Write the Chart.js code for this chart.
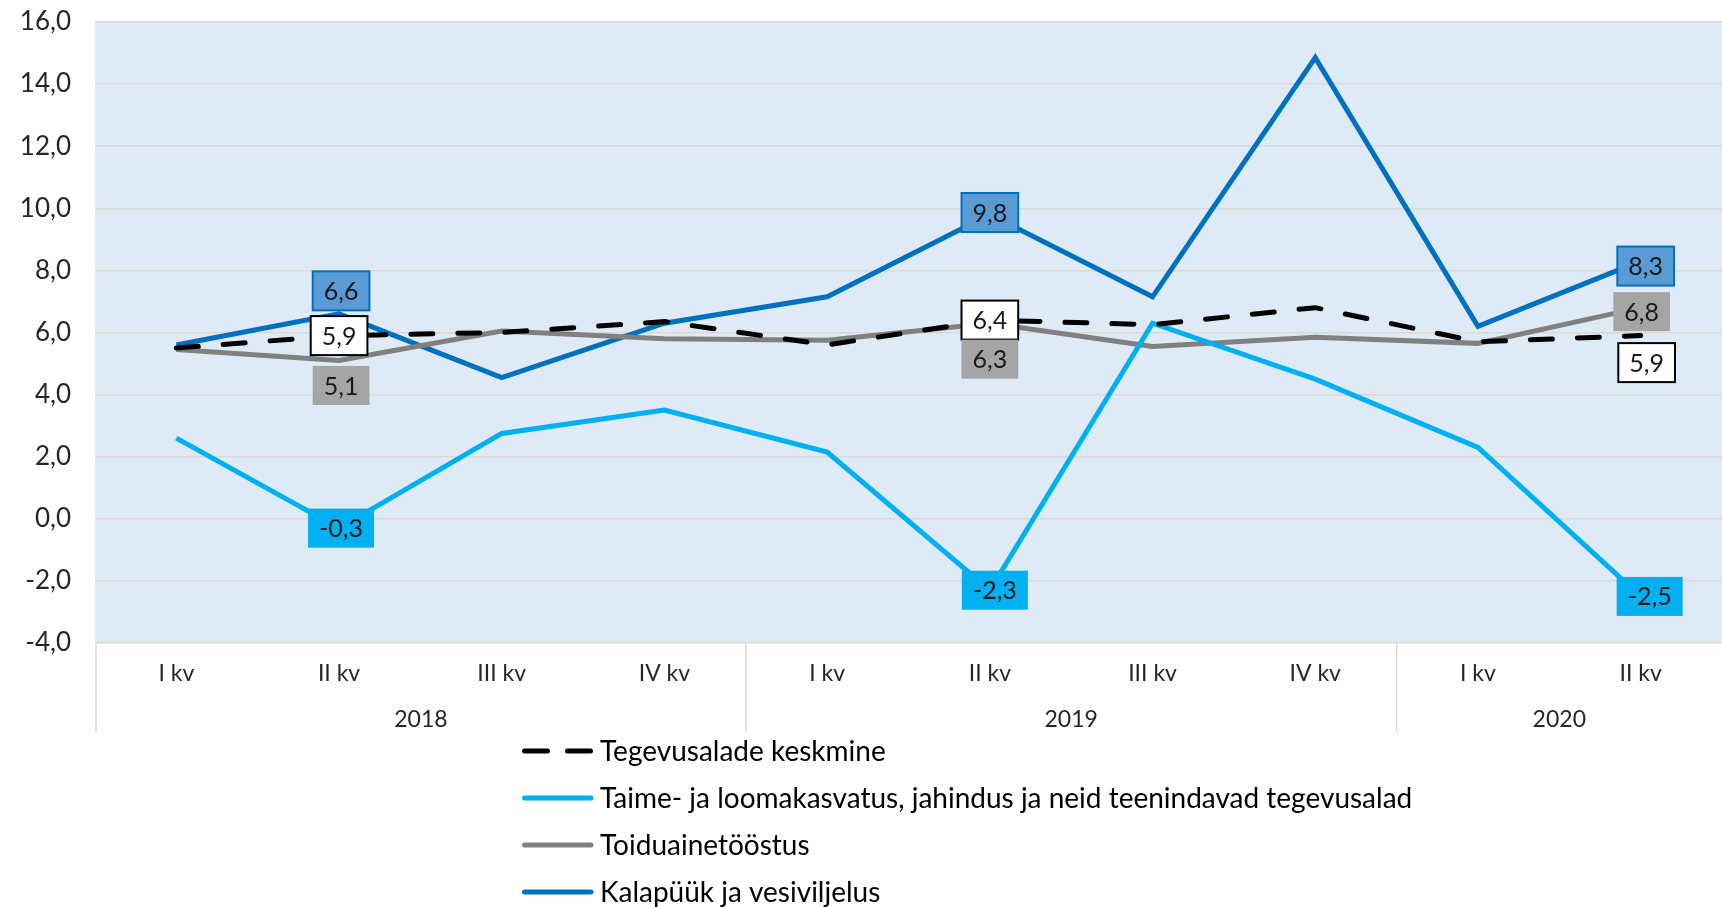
<!DOCTYPE html>
<html>
<head>
<meta charset="utf-8">
<script src="https://cdn.jsdelivr.net/npm/chart.js@4.4.1/dist/chart.umd.min.js"></script>
<style>
  html, body { margin: 0; padding: 0; background: #fff; }
  #wrap { width: 1722px; height: 907px; }
</style>
</head>
<body>
<div id="wrap"><canvas id="chart"></canvas></div>
<script>
// categories
const quarters = ["I kv", "II kv", "III kv", "IV kv", "I kv", "II kv", "III kv", "IV kv", "I kv", "II kv"];
const years = ["2018", "2019", "2020"];
const yearSpans = [4, 4, 2];

// series values
const keskmine = [5.5, 5.9, 6.0, 6.35, 5.6, 6.4, 6.25, 6.8, 5.7, 5.9];
const taime = [2.6, -0.3, 2.75, 3.5, 2.15, -2.3, 6.3, 4.5, 2.3, -2.5];
const toidu = [5.45, 5.1, 6.05, 5.8, 5.75, 6.3, 5.55, 5.85, 5.65, 6.8];
const kala = [5.6, 6.6, 4.55, 6.3, 7.15, 9.8, 7.15, 14.85, 6.2, 8.3];

const seriesNames = [
  "Tegevusalade keskmine",
  "Taime- ja loomakasvatus, jahindus ja neid teenindavad tegevusalad",
  "Toiduainetööstus",
  "Kalapüük ja vesiviljelus",
];

// y axis range
const yMin = -4;
const yMax = 16;
const yStep = 2;

const FONT = "Lato, 'Open Sans', sans-serif";
const fmt = (v) => v.toFixed(1).replace(".", ",");

// which points get a value box, and where the box sits (pixel offsets from point)
const valueBoxes = [
  { ds: 0, idx: 1, dx: 0, dy: 0, bg: "#ffffff", border: "#000000" },
  { ds: 0, idx: 5, dx: 0, dy: 0, bg: "#ffffff", border: "#000000" },
  { ds: 0, idx: 9, dx: 6, dy: 27, bg: "#ffffff", border: "#000000" },
  { ds: 1, idx: 1, dx: 2, dy: 0, bg: "#00B0F0", border: null },
  { ds: 1, idx: 5, dx: 5, dy: 0, bg: "#00B0F0", border: null },
  { ds: 1, idx: 9, dx: 9, dy: 0, bg: "#00B0F0", border: null },
  { ds: 2, idx: 1, dx: 2, dy: 25, bg: "#A5A5A5", border: null },
  { ds: 2, idx: 5, dx: 0, dy: 36, bg: "#A5A5A5", border: null },
  { ds: 2, idx: 9, dx: 1, dy: 4, bg: "#A5A5A5", border: null },
  { ds: 3, idx: 1, dx: 2, dy: -23, bg: "#5B9BD5", border: "#0070C0" },
  { ds: 3, idx: 5, dx: 0, dy: -2, bg: "#5B9BD5", border: "#0070C0" },
  { ds: 3, idx: 9, dx: 5, dy: 5, bg: "#5B9BD5", border: "#0070C0" },
];

const decor = {
  id: "decor",
  beforeDraw(chart) {
    const { ctx, chartArea: a } = chart;
    ctx.save();
    ctx.fillStyle = "#DEEAF6";
    ctx.fillRect(a.left, a.top, a.right - a.left, a.bottom - a.top);
    ctx.restore();
  },
  afterDraw(chart) {
    const { ctx, chartArea: a } = chart;
    const x = chart.scales.x;
    ctx.save();

    // year group separators and year labels
    ctx.strokeStyle = "#D9D9D9";
    ctx.lineWidth = 1.5;
    let start = 0;
    const bounds = [];
    yearSpans.forEach((n) => {
      bounds.push([start, start + n - 1]);
      start += n;
    });
    const edge = (i) => {
      if (i <= 0) return a.left + 1;
      if (i >= quarters.length) return a.right;
      return (x.getPixelForValue(i - 1) + x.getPixelForValue(i)) / 2;
    };
    bounds.forEach((b) => {
      const left = edge(b[0]);
      ctx.beginPath();
      ctx.moveTo(left, a.bottom);
      ctx.lineTo(left, a.bottom + 89);
      ctx.stroke();
    });
    ctx.fillStyle = "#262626";
    ctx.font = "23px " + FONT;
    ctx.textAlign = "center";
    ctx.textBaseline = "middle";
    bounds.forEach((b, i) => {
      const cx = (edge(b[0]) + edge(b[1] + 1)) / 2;
      ctx.fillText(years[i], cx, a.bottom + 77);
    });

    // value boxes
    ctx.font = "25px " + FONT;
    valueBoxes.forEach((b) => {
      const p = chart.getDatasetMeta(b.ds).data[b.idx];
      const v = chart.data.datasets[b.ds].data[b.idx];
      const txt = fmt(v);
      const w = ctx.measureText(txt).width + 22;
      const h = 39;
      const cx = p.x + b.dx;
      const cy = p.y + b.dy;
      ctx.fillStyle = b.bg;
      ctx.fillRect(cx - w / 2, cy - h / 2, w, h);
      if (b.border) {
        ctx.strokeStyle = b.border;
        ctx.lineWidth = 2;
        ctx.strokeRect(cx - w / 2, cy - h / 2, w, h);
      }
      ctx.fillStyle = "#1a1a1a";
      ctx.fillText(txt, cx, cy + 1);
    });

    // legend (one item per row)
    const rows = [751, 798, 845, 892];
    chart.data.datasets.forEach((ds, i) => {
      const y = rows[i];
      ctx.strokeStyle = ds.borderColor;
      ctx.lineWidth = 5;
      ctx.lineCap = "round";
      ctx.setLineDash(ds.borderDash && ds.borderDash.length ? [23, 20] : []);
      ctx.beginPath();
      ctx.moveTo(524.5, y);
      ctx.lineTo(591, y);
      ctx.stroke();
      ctx.setLineDash([]);
      ctx.fillStyle = "#000";
      ctx.font = "28px " + FONT;
      ctx.textAlign = "left";
      ctx.fillText(ds.label, 600, y + 1);
    });
    ctx.restore();
  },
};

const main = () => {
  const ctx = document.querySelector("#chart").getContext("2d");
  const colors = ["#000000", "#00B0F0", "#808080", "#0070C0"];
  const values = [keskmine, taime, toidu, kala];

  const datasets = values.map((d, i) => ({
    label: seriesNames[i],
    data: d,
    borderColor: colors[i],
    backgroundColor: colors[i],
    borderWidth: 5,
    borderDash: i === 0 ? [22, 25] : [],
    borderCapStyle: i === 0 ? "round" : "butt",
    pointRadius: 0,
    tension: 0,
    fill: false,
  }));

  const config = {
    type: "line",
    data: { labels: quarters, datasets: datasets },
    options: {
      responsive: true,
      maintainAspectRatio: false,
      animation: false,
      layout: { padding: { top: 22, right: 0, left: 0, bottom: 164 } },
      plugins: {
        legend: { display: false },
        tooltip: { enabled: false },
      },
      scales: {
        x: {
          offset: true,
          grid: { display: false, drawTicks: false },
          border: { display: false },
          ticks: {
            color: "#262626",
            font: { family: FONT, size: 23 },
            padding: 17,
            maxRotation: 0,
          },
          afterFit: (s) => { s.height = 100; },
        },
        y: {
          min: yMin,
          max: yMax,
          grid: { color: "#D9D9D9", lineWidth: 1.5, drawTicks: false },
          border: { display: false },
          ticks: {
            stepSize: yStep,
            color: "#262626",
            font: { family: FONT, size: 26 },
            padding: 24,
            callback: (v) => fmt(v),
          },
          afterFit: (s) => {
            s.width = 95;
            s.paddingTop = 0;
            s.paddingBottom = 0;
          },
        },
      },
    },
    plugins: [decor],
  };
  new Chart(ctx, config);
};

main();
</script>
</body>
</html>
